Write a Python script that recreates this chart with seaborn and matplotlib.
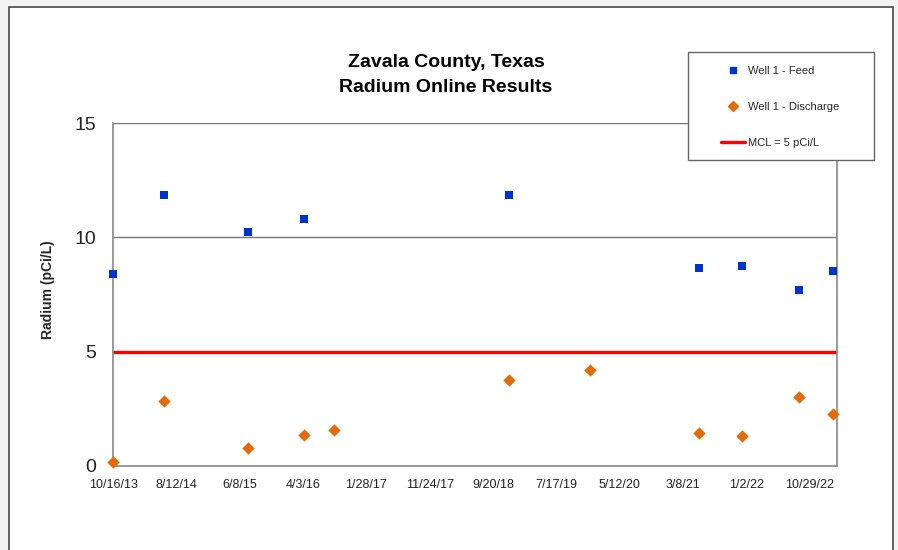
import matplotlib
matplotlib.use("Agg")
import matplotlib.pyplot as plt
from matplotlib.patches import Rectangle
from matplotlib.lines import Line2D
import seaborn as sns
import pandas as pd
import numpy as np

# ---- data ----
feed_dates = ["2013-10-16", "2014-06-13", "2015-07-16", "2016-04-09", "2018-12-03",
              "2021-05-20", "2021-12-09", "2022-09-06", "2023-02-17"]
feed_values = [8.39, 11.84, 10.22, 10.82, 11.84, 8.67, 8.74, 7.69, 8.52]

discharge_dates = ["2013-10-16", "2014-06-13", "2015-07-16", "2016-04-09", "2016-08-26",
                   "2018-12-03", "2019-12-22", "2021-05-20", "2021-12-09", "2022-09-06",
                   "2023-02-17"]
discharge_values = [0.16, 2.85, 0.78, 1.37, 1.56, 3.77, 4.22, 1.43, 1.30, 3.01, 2.27]

mcl_value = 5
tick_labels = ["10/16/13", "8/12/14", "6/8/15", "4/3/16", "1/28/17", "11/24/17",
               "9/20/18", "7/17/19", "5/12/20", "3/8/21", "1/2/22", "10/29/22"]
y_ticks = [0, 5, 10, 15]

feed_label = "Well 1 - Feed"
discharge_label = "Well 1 - Discharge"
mcl_label = "MCL = 5 pCi/L"

# ---- build frames ----
feed_df = pd.DataFrame({"date": pd.to_datetime(feed_dates), "value": feed_values})
dis_df = pd.DataFrame({"date": pd.to_datetime(discharge_dates), "value": discharge_values})
tick_dates = pd.to_datetime(tick_labels, format="%m/%d/%y")

sns.set_style("white")
plt.rcParams["font.family"] = ["Liberation Sans", "DejaVu Sans"]

fig = plt.figure(figsize=(8.98, 5.5), dpi=100)
fig.patch.set_facecolor("#f4f4f4")
# chart area frame
fig.patches.append(Rectangle((8.5 / 898, -0.01), (893 - 8.5) / 898, 1 - 6.5 / 550 + 0.01,
                             transform=fig.transFigure, facecolor="white",
                             edgecolor="#555555", linewidth=1.3, zorder=-5))

left, right, top, bottom = 113 / 898, 837 / 898, 1 - 123 / 550, 1 - 466 / 550
ax = fig.add_axes([left, bottom, right - left, top - bottom])
ax.set_facecolor("white")
ax.set_zorder(1)

blue = "#0033cc"
orange = "#e36c09"
red = "#ff0000"

ax.axhline(mcl_value, color=red, linewidth=2.4, zorder=2)

sns.scatterplot(data=feed_df, x="date", y="value", marker="s", s=36, color=blue,
                edgecolor=blue, linewidth=0, ax=ax, zorder=3, clip_on=False)
sns.scatterplot(data=dis_df, x="date", y="value", marker="D", s=40, color=orange,
                edgecolor=orange, linewidth=0, ax=ax, zorder=3, clip_on=False)

x0 = tick_dates[0]
ax.set_xlim(x0, x0 + pd.Timedelta(days=3428))
ax.set_ylim(0, 15)
ax.set_xticks(tick_dates)
ax.set_xticklabels(tick_labels, fontsize=9, color="#222222")
ax.set_yticks(y_ticks)
ax.set_yticklabels([str(v) for v in y_ticks], fontsize=14, color="#222222")
ax.tick_params(axis="x", direction="out", length=4, width=0.8, color="#888888", pad=5)
ax.tick_params(axis="y", direction="out", length=6, width=0.8, color="#888888", pad=6)

for yv in [10, 15]:
    ax.axhline(yv, color="#777777", linewidth=1.0, zorder=1)
for side in ["left", "bottom", "right"]:
    ax.spines[side].set_visible(True)
    ax.spines[side].set_color("#888888")
    ax.spines[side].set_linewidth(1.2)
ax.spines["top"].set_visible(False)

ax.set_xlabel("")
ax.set_ylabel("Radium (pCi/L)", fontsize=10, fontweight="bold")
ax.yaxis.set_label_coords(-58 / (837 - 113), (466 - 290) / (466 - 123))

fig.text(446 / 898, 1 - 62 / 550, "Zavala County, Texas", ha="center", va="center",
         fontsize=14, fontweight="bold", color="black")
fig.text(446 / 898, 1 - 88 / 550, "Radium Online Results", ha="center", va="center",
         fontsize=14, fontweight="bold", color="black")

# legend box
fig.patches.append(Rectangle((688 / 898, 1 - 160 / 550), (874 - 688) / 898, 108 / 550,
                             transform=fig.transFigure, facecolor="white",
                             edgecolor="#666666", linewidth=1.0, zorder=5))
handles = [
    Line2D([], [], linestyle="none", marker="s", markersize=5, color=blue),
    Line2D([], [], linestyle="none", marker="D", markersize=5, color=orange),
    Line2D([], [], color=red, linewidth=2.4),
]
leg = fig.legend(handles, [feed_label, discharge_label, mcl_label],
                 loc="upper left", bbox_to_anchor=(721 / 898, 1 - 66 / 550),
                 frameon=False, fontsize=8, labelspacing=2.35,
                 handlelength=2.2, handletextpad=0.2, borderpad=0,
                 borderaxespad=0)
leg.set_zorder(10)

fig.savefig("out.png", dpi=100, facecolor=fig.get_facecolor())
